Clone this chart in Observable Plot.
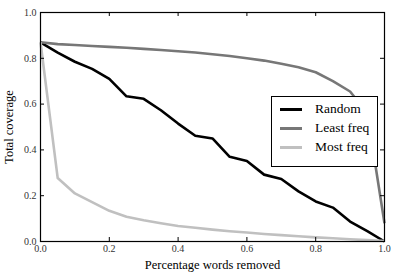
<!DOCTYPE html>
<html>
<head>
<meta charset="utf-8">
<script src="https://cdn.jsdelivr.net/npm/d3@7"></script>
<script src="https://cdn.jsdelivr.net/npm/@observablehq/plot@0.6"></script>
<style>
  html, body { margin: 0; padding: 0; background: #fff; }
  #wrap { position: relative; width: 399px; height: 278px; }
  #legend { position: absolute; left: 271px; top: 96px; width: 105px; height: 69px; border: 1px solid #000; background: #fff; }
  .row { position: absolute; left: 0; height: 19px; width: 100%; }
  .sw { position: absolute; left: 8px; width: 22px; height: 3px; }
  .lb { position: absolute; left: 43px; font-size: 13.5px; line-height: 16px; color: #000; white-space: nowrap; }
</style>
</head>
<body>
<div id="wrap"></div>
<script>
const xs = [0, 0.05, 0.1, 0.15, 0.2, 0.25, 0.3, 0.35, 0.4, 0.45, 0.5, 0.55, 0.6, 0.65, 0.7, 0.75, 0.8, 0.85, 0.9, 0.95, 1.0];
const random = [0.87, 0.825, 0.785, 0.754, 0.71, 0.634, 0.623, 0.573, 0.515, 0.462, 0.45, 0.37, 0.352, 0.292, 0.273, 0.219, 0.175, 0.148, 0.087, 0.045, 0.0];
const leastFreq = [0.87, 0.862, 0.858, 0.854, 0.85, 0.846, 0.841, 0.836, 0.831, 0.825, 0.818, 0.81, 0.8, 0.79, 0.776, 0.761, 0.739, 0.70, 0.655, 0.56, 0.08];
const mostFreq = [0.87, 0.277, 0.21, 0.172, 0.134, 0.108, 0.093, 0.08, 0.068, 0.06, 0.052, 0.045, 0.039, 0.033, 0.028, 0.023, 0.018, 0.014, 0.01, 0.006, 0.002];
const seriesNames = ["Random", "Least freq", "Most freq"];
const seriesColors = ["#000000", "#777777", "#c0c0c0"];
const xTicks = [0, 0.2, 0.4, 0.6, 0.8, 1.0];
const yTicks = [0, 0.2, 0.4, 0.6, 0.8, 1.0];

const FONT = "'Liberation Serif'";
const seriesValues = [random, leastFreq, mostFreq];
const data = [];
seriesNames.forEach((name, i) => xs.forEach((x, j) => data.push({series: name, x, y: seriesValues[i][j]})));

const W = 399, H = 278, mL = 40, mR = 15, mT = 12, mB = 37;
const plotH = H - mT - mB, plotW = W - mL - mR, tl = 4;
const fmt = d3.format(".1f");

const chart = Plot.plot({
  width: W, height: H,
  marginLeft: mL, marginRight: mR, marginTop: mT, marginBottom: mB,
  style: { fontFamily: FONT, fontSize: "10px", background: "#fff", color: "#000" },
  x: { domain: [0, 1] },
  y: { domain: [0, 1] },
  color: { domain: seriesNames, range: seriesColors },
  marks: [
    Plot.line(data, { x: "x", y: "y", z: "series", stroke: "series", strokeWidth: 2.6, strokeLinejoin: "round", strokeLinecap: "butt" }),
    Plot.frame({ stroke: "#000", strokeWidth: 1.2 }),
    Plot.ruleX(xTicks, { x: d => d, insetTop: plotH - tl, stroke: "#000" }),
    Plot.ruleX(xTicks, { x: d => d, insetBottom: plotH - tl, stroke: "#000" }),
    Plot.ruleY(yTicks, { y: d => d, insetRight: plotW - tl, stroke: "#000" }),
    Plot.ruleY(yTicks, { y: d => d, insetLeft: plotW - tl, stroke: "#000" }),
    Plot.axisX(xTicks, { tickSize: 0, tickPadding: 3, tickFormat: fmt, fontSize: 10, fill: "#333",
      label: "Percentage words removed", labelAnchor: "center", labelArrow: "none", labelOffset: 27 }),
    Plot.axisY(yTicks, { tickSize: 0, tickPadding: 4, tickFormat: fmt, fontSize: 10, fill: "#333",
      label: "Total coverage", labelAnchor: "center", labelArrow: "none", labelOffset: 36 })
  ]
});
const wrap = document.getElementById("wrap");
wrap.appendChild(chart);
chart.querySelectorAll("text").forEach(t => { t.style.fontFamily = FONT; });
chart.querySelectorAll("g[aria-label='x-axis label'] text, g[aria-label='y-axis label'] text").forEach(t => {
  t.setAttribute("font-size", "12.5");
  t.style.fontSize = "12.5px";
  t.setAttribute("fill", "#000");
});

const legend = document.createElement("div");
legend.id = "legend";
seriesNames.forEach((name, i) => {
  const row = document.createElement("div");
  row.className = "row";
  row.style.top = (4 + i * 19) + "px";
  const sw = document.createElement("div");
  sw.className = "sw";
  sw.style.top = "6.5px";
  sw.style.background = seriesColors[i];
  const lb = document.createElement("div");
  lb.className = "lb";
  lb.style.top = "0px";
  lb.style.fontFamily = FONT;
  lb.textContent = name;
  row.appendChild(sw); row.appendChild(lb);
  legend.appendChild(row);
});
wrap.appendChild(legend);
</script>
</body>
</html>
